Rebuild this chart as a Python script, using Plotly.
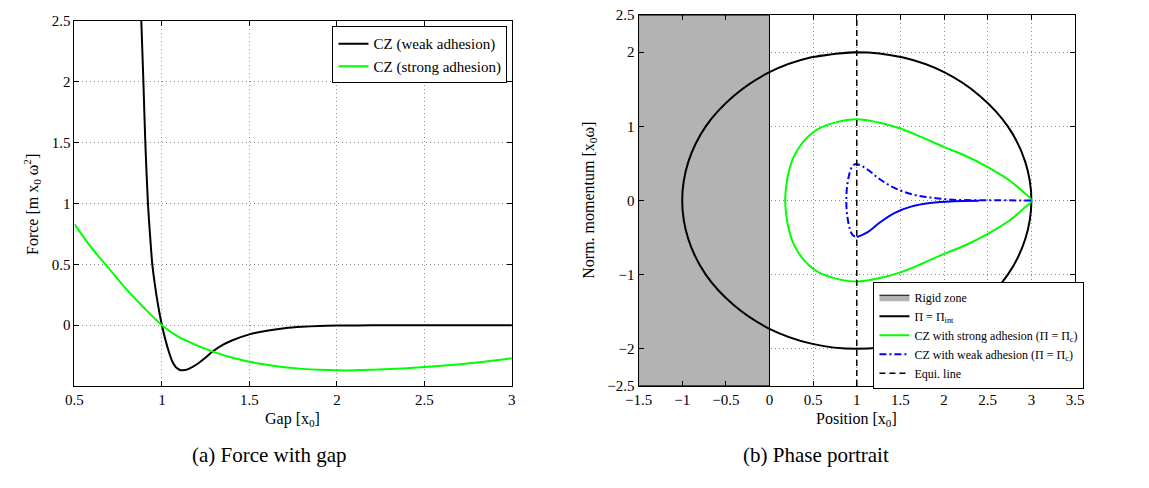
import plotly.graph_objects as go

# ---------------- (a) Force with gap ----------------
gap_weak = [0.882, 0.894, 0.905, 0.92, 0.933, 0.945, 0.96, 0.975, 0.99, 1.0, 1.02, 1.04, 1.06,
            1.08, 1.10, 1.12, 1.15, 1.2, 1.25, 1.29, 1.35, 1.4, 1.5, 1.6, 1.7, 1.8, 1.9, 2.0,
            2.2, 2.5, 3.0]
force_weak = [2.5, 2.0, 1.5, 1.0, 0.72, 0.5, 0.33, 0.19, 0.07, 0.0, -0.12, -0.22, -0.3,
              -0.345, -0.365, -0.37, -0.36, -0.32, -0.265, -0.216, -0.16, -0.125, -0.075, -0.045,
              -0.025, -0.013, -0.006, -0.003, -0.001, 0.0, 0.0]

gap_strong = [0.5, 0.6, 0.7, 0.8, 0.9, 1.0, 1.1, 1.2, 1.29, 1.4, 1.5, 1.6, 1.7, 1.8, 1.9,
              2.0, 2.1, 2.2, 2.4, 2.6, 2.8, 3.0]
force_strong = [0.83, 0.63, 0.46, 0.29, 0.14, 0.0, -0.1, -0.165, -0.216, -0.265, -0.3, -0.325,
                -0.345, -0.358, -0.366, -0.37, -0.37, -0.366, -0.352, -0.332, -0.305, -0.27]

# ---------------- (b) Phase portrait ----------------
rigid_x = [-1.5, 0, 0, -1.5, -1.5]
rigid_p = [-2.5, -2.5, 2.5, 2.5, -2.5]

pint_x = [1.0, 0.48, 0.0, -0.41, -0.73, -0.93, -1.0, -0.93, -0.73, -0.41, 0.0, 0.48, 1.0,
          1.52, 2.0, 2.41, 2.73, 2.93, 3.0, 2.93, 2.73, 2.41, 2.0, 1.52, 1.0, 0.48]
pint_p = [2.0, 1.93, 1.73, 1.41, 1.0, 0.52, 0.0, -0.52, -1.0, -1.41, -1.73, -1.93, -2.0,
          -1.93, -1.73, -1.41, -1.0, -0.52, 0.0, 0.52, 1.0, 1.41, 1.73, 1.93, 2.0, 1.93]

strong_x = [3.0, 2.9, 2.75, 2.5, 2.25, 2.0, 1.75, 1.5, 1.25, 1.0, 0.75, 0.6, 0.5, 0.4, 0.32,
            0.26, 0.22, 0.195, 0.18, 0.195, 0.22, 0.26, 0.32, 0.4, 0.5, 0.6, 0.75, 1.0, 1.25,
            1.5, 1.75, 2.0, 2.25, 2.5, 2.75, 2.9, 3.0]
strong_p = [0.0, 0.12, 0.27, 0.45, 0.6, 0.72, 0.85, 0.97, 1.05, 1.094, 1.05, 0.99, 0.92, 0.81,
            0.68, 0.54, 0.38, 0.22, 0.0, -0.22, -0.38, -0.54, -0.68, -0.81, -0.92, -0.99, -1.05,
            -1.094, -1.05, -0.97, -0.85, -0.72, -0.6, -0.45, -0.27, -0.12, 0.0]

weak_up_x = [3.0, 2.5, 2.1, 1.84, 1.63, 1.43, 1.26, 1.12, 1.0, 0.955, 0.92, 0.89, 0.88, 0.89,
             0.92, 0.955, 1.0]
weak_up_p = [0.0, 0.004, 0.01, 0.04, 0.083, 0.17, 0.29, 0.42, 0.49, 0.47, 0.38, 0.2, 0.0,
             -0.2, -0.38, -0.47, -0.494]
weak_low_x = [1.0, 1.12, 1.26, 1.43, 1.63, 1.84, 2.11, 2.4]
weak_low_p = [-0.494, -0.43, -0.3, -0.17, -0.08, -0.035, -0.01, -0.003]

equi_x = [1.0, 1.0]
equi_p = [-2.5, 2.5]

FONT = "Liberation Serif, Times New Roman, serif"
W, H = 1149, 488

fig = go.Figure()

# left panel
fig.add_trace(go.Scatter(x=gap_weak, y=force_weak, mode="lines", name="CZ (weak adhesion)",
                         line=dict(color="black", width=2, shape="spline", smoothing=0.8),
                         xaxis="x", yaxis="y", legend="legend"))
fig.add_trace(go.Scatter(x=gap_strong, y=force_strong, mode="lines", name="CZ (strong adhesion)",
                         line=dict(color="#00ff00", width=2, shape="spline", smoothing=0.8),
                         xaxis="x", yaxis="y", legend="legend"))

# right panel
fig.add_trace(go.Scatter(x=rigid_x, y=rigid_p, mode="lines", fill="toself", fillcolor="#b3b3b3",
                         line=dict(color="black", width=1), name="Rigid zone",
                         xaxis="x2", yaxis="y2", legend="legend2"))
fig.add_trace(go.Scatter(x=pint_x, y=pint_p, mode="lines", name="Π = Π<sub>int</sub>",
                         line=dict(color="black", width=2, shape="spline", smoothing=1),
                         xaxis="x2", yaxis="y2", legend="legend2"))
fig.add_trace(go.Scatter(x=strong_x, y=strong_p, mode="lines",
                         name="CZ with strong adhesion (Π = Π<sub>c</sub>)",
                         line=dict(color="#00ff00", width=2, shape="spline", smoothing=1),
                         xaxis="x2", yaxis="y2", legend="legend2"))
fig.add_trace(go.Scatter(x=weak_up_x, y=weak_up_p, mode="lines",
                         name="CZ with weak adhesion (Π = Π<sub>c</sub>)",
                         line=dict(color="#0000ff", width=2, dash="7px,3px,2px,3px",
                                   shape="spline", smoothing=1),
                         xaxis="x2", yaxis="y2", legend="legend2"))
fig.add_trace(go.Scatter(x=weak_low_x, y=weak_low_p, mode="lines", showlegend=False,
                         line=dict(color="#0000ff", width=2, shape="spline", smoothing=1),
                         xaxis="x2", yaxis="y2"))
fig.add_trace(go.Scatter(x=equi_x, y=equi_p, mode="lines", name="Equi. line",
                         line=dict(color="black", width=1.5, dash="6px,4px"),
                         xaxis="x2", yaxis="y2", legend="legend2"))

axis_common = dict(showline=True, linecolor="black", linewidth=1, mirror="allticks",
                   ticks="inside", ticklen=5, tickcolor="black", showgrid=True,
                   gridcolor="#8a8a8a", griddash="1px,3px", gridwidth=1, zeroline=False,
                   tickfont=dict(family=FONT, size=15, color="black"))

fig.update_layout(
    width=W, height=H, margin=dict(l=0, r=0, t=0, b=0),
    paper_bgcolor="white", plot_bgcolor="white", hovermode=False,
    font=dict(family=FONT, color="black"),
    xaxis=dict(axis_common, domain=[61.7 / W, 508 / W], range=[0.5, 3],
               tickvals=[0.5, 1, 1.5, 2, 2.5, 3], ticktext=["0.5", "1", "1.5", "2", "2.5", "3"],
               anchor="y"),
    yaxis=dict(axis_common, domain=[(H - 391) / H, (H - 13) / H], range=[-0.5, 2.5],
               tickvals=[0, 0.5, 1, 1.5, 2, 2.5], ticktext=["0", "0.5", "1", "1.5", "2", "2.5"],
               anchor="x"),
    xaxis2=dict(axis_common, domain=[637.3 / W, 1082.7 / W], range=[-1.5, 3.5],
                tickvals=[-1.5, -1, -0.5, 0, 0.5, 1, 1.5, 2, 2.5, 3, 3.5],
                ticktext=["−1.5", "−1", "−0.5", "0", "0.5", "1", "1.5", "2", "2.5", "3", "3.5"],
                anchor="y2"),
    yaxis2=dict(axis_common, domain=[(H - 390.7) / H, (H - 7.3) / H], range=[-2.5, 2.5],
                tickvals=[-2.5, -2, -1, 0, 1, 2, 2.5],
                ticktext=["−2.5", "−2", "−1", "0", "1", "2", "2.5"],
                anchor="x2"),
    legend=dict(x=325 / W, y=(H - 19) / H, xanchor="left", yanchor="top",
                bgcolor="white", bordercolor="black", borderwidth=1,
                font=dict(family=FONT, size=15, color="black"), tracegroupgap=0),
    legend2=dict(x=877 / W, y=(H - 283) / H, xanchor="left", yanchor="top",
                 bgcolor="white", bordercolor="black", borderwidth=1,
                 font=dict(family=FONT, size=12, color="black"), tracegroupgap=0),
)

annots = [
    dict(text="Gap [x<sub>0</sub>]", x=284 / W, y=(H - 425) / H, size=16, angle=0),
    dict(text="Force [m x<sub>0</sub> ω<sup>2</sup>]", x=19 / W, y=(H - 203) / H, size=16, angle=-90),
    dict(text="Position [x<sub>0</sub>]", x=860 / W, y=(H - 425) / H, size=16, angle=0),
    dict(text="Norm. momentum [x<sub>0</sub>ω]", x=587 / W, y=(H - 199) / H, size=16, angle=-90),
    dict(text="(a) Force with gap", x=261 / W, y=(H - 462) / H, size=21, angle=0),
    dict(text="(b) Phase portrait", x=818 / W, y=(H - 462) / H, size=21, angle=0),
]
for a in annots:
    fig.add_annotation(text=a["text"], x=a["x"], y=a["y"], xref="paper", yref="paper",
                       xanchor="center", yanchor="middle", showarrow=False, textangle=a["angle"],
                       font=dict(family=FONT, size=a["size"], color="black"))

fig.write_html("out.html")
